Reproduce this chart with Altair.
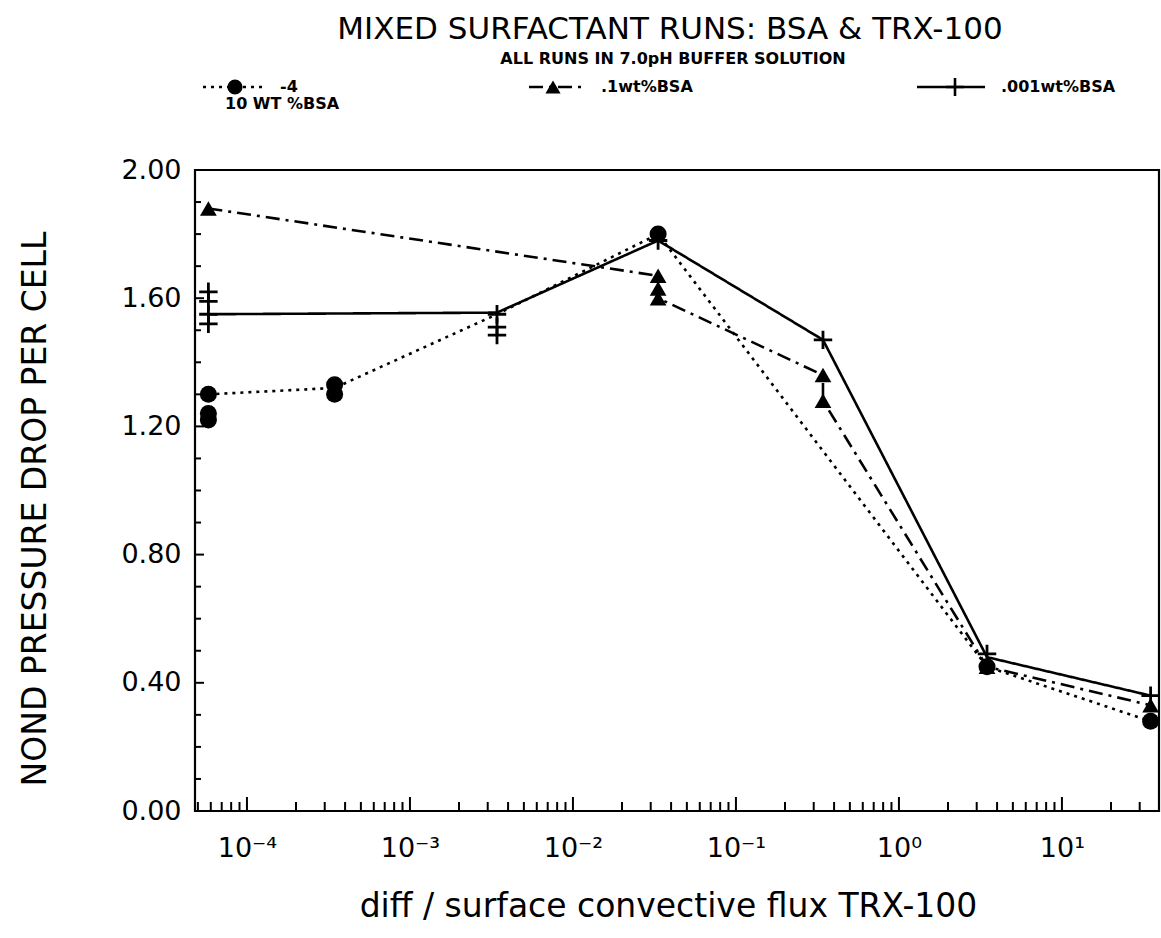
import altair as alt
import pandas as pd

# ---------------- data ----------------
# Series 1: "-4 / 10 WT %BSA"  (filled circles, dotted line)
circ_pts_x = [5.8e-5, 5.8e-5, 5.8e-5, 3.45e-4, 3.45e-4, 3.33e-2, 3.47, 35.0]
circ_pts_y = [1.22, 1.24, 1.30, 1.30, 1.33, 1.80, 0.45, 0.28]
circ_line_x = [5.8e-5, 3.45e-4, 3.42e-3, 3.33e-2, 3.47, 35.0]
circ_line_y = [1.30, 1.32, 1.55, 1.80, 0.45, 0.28]

# Series 2: ".1wt%BSA"  (filled triangles, dash-dot line)
tri_pts_x = [5.8e-5, 3.33e-2, 3.33e-2, 3.33e-2, 3.42e-1, 3.42e-1, 3.47, 35.0]
tri_pts_y = [1.88, 1.67, 1.63, 1.60, 1.36, 1.28, 0.45, 0.33]
tri_line_x = [5.8e-5, 3.33e-2, 3.33e-2, 3.42e-1, 3.42e-1, 3.47, 35.0]
tri_line_y = [1.88, 1.67, 1.60, 1.36, 1.28, 0.45, 0.33]

# Series 3: ".001wt%BSA"  (crosses, solid line)
crs_pts_x = [5.8e-5, 5.8e-5, 5.8e-5, 5.8e-5, 3.42e-3, 3.42e-3, 3.42e-3, 3.33e-2, 3.42e-1, 3.47, 35.0]
crs_pts_y = [1.62, 1.59, 1.55, 1.52, 1.55, 1.51, 1.485, 1.78, 1.47, 0.49, 0.36]
crs_line_x = [5.8e-5, 3.42e-3, 3.33e-2, 3.42e-1, 3.47, 35.0]
crs_line_y = [1.55, 1.555, 1.78, 1.47, 0.48, 0.36]

SERIES = ["circ", "tri", "crs"]
DASHES = [[3, 5], [14, 6, 3, 6], [1, 0]]

# axes
X_DOMAIN = [4.8e-5, 39.4]
Y_DOMAIN = [0.0, 2.0]
X_MAJOR = [1e-4, 1e-3, 1e-2, 1e-1, 1.0, 10.0]
X_LABELS = ["10\u207b\u2074", "10\u207b\u00b3", "10\u207b\u00b2", "10\u207b\u00b9", "10\u2070", "10\u00b9"]
X_MINOR = [m * 10.0 ** e for e in range(-5, 2) for m in range(2, 10)]
X_MINOR = [v for v in X_MINOR if X_DOMAIN[0] <= v <= X_DOMAIN[1]]
Y_MAJOR = [0.0, 0.4, 0.8, 1.2, 1.6, 2.0]
Y_MINOR = [0.1, 0.2, 0.3, 0.5, 0.6, 0.7, 0.9, 1.0, 1.1, 1.3, 1.4, 1.5, 1.7, 1.8, 1.9]

TITLE = "MIXED SURFACTANT RUNS: BSA & TRX-100"
SUBTITLE = "ALL RUNS IN 7.0pH BUFFER SOLUTION"
X_TITLE = "diff / surface convective flux TRX-100"
Y_TITLE = "NOND PRESSURE DROP PER CELL"

# ---------------- tables ----------------
lines = []
for s, xs, ys in [("circ", circ_line_x, circ_line_y), ("tri", tri_line_x, tri_line_y), ("crs", crs_line_x, crs_line_y)]:
    for i, (a, b) in enumerate(zip(xs, ys)):
        lines.append({"series": s, "i": i, "x": a, "y": b})
lines_df = pd.DataFrame(lines)

pts = []
for s, xs, ys in [("circ", circ_pts_x, circ_pts_y), ("tri", tri_pts_x, tri_pts_y), ("crs", crs_pts_x, crs_pts_y)]:
    for a, b in zip(xs, ys):
        pts.append({"series": s, "x": a, "y": b})
pts_df = pd.DataFrame(pts)

W, H = 964, 641
FONT = "DejaVu Sans"
xscale = alt.Scale(type="log", domain=X_DOMAIN, nice=False)
yscale = alt.Scale(domain=Y_DOMAIN, nice=False, zero=False)

label_expr = "[" + ",".join("'%s'" % l for l in X_LABELS) + "][round(log(datum.value)/LN10)+4]"

xaxis = alt.Axis(values=X_MAJOR, labelExpr=label_expr, ticks=False, domain=False, grid=False,
                 labelFontSize=27, labelFont=FONT, labelPadding=24, labelColor="black",
                 title=X_TITLE, titleFont=FONT, titleFontSize=33, titleFontWeight="normal",
                 titleColor="black", titleX=473, titleY=95, titleBaseline="middle", titleAlign="center")
yaxis = alt.Axis(values=Y_MAJOR, format=".2f", ticks=False, domain=False, grid=False,
                 labelFontSize=27, labelFont=FONT, labelPadding=14, labelColor="black",
                 title=Y_TITLE, titleFont=FONT, titleFontSize=33, titleFontWeight="normal",
                 titleColor="black", titleX=-160, titleY=H / 2 + 18, titleAngle=270,
                 titleBaseline="middle", titleAlign="center")

X_ENC = lambda f="x": alt.X(f + ":Q", scale=xscale, axis=xaxis)
Y_ENC = lambda f="y": alt.Y(f + ":Q", scale=yscale, axis=yaxis)

line_layer = alt.Chart(lines_df).mark_line(color="black", strokeWidth=2.6).encode(
    x=X_ENC(), y=Y_ENC(),
    detail="series:N",
    order="i:Q",
    strokeDash=alt.StrokeDash("series:N", scale=alt.Scale(domain=SERIES, range=DASHES), legend=None),
)

def pts_layer(series, **mk):
    return alt.Chart(pts_df).transform_filter(alt.datum.series == series).mark_point(**mk).encode(
        x=X_ENC(), y=Y_ENC())

CROSS = "M-1,0H1M0,-1V1"
circ_layer = pts_layer("circ", shape="circle", filled=True, color="black", size=290, opacity=1)
tri_layer = pts_layer("tri", shape="triangle-up", filled=True, color="black", size=280, opacity=1)
crs_layer = pts_layer("crs", shape=CROSS, filled=False, color="black", size=340, strokeWidth=2.8, opacity=1)

# inward ticks drawn through the scales
xt_minor = alt.Chart(pd.DataFrame({"x": X_MINOR})).mark_rule(color="black", strokeWidth=2).encode(
    x=X_ENC(), y=alt.value(H), y2=alt.value(H - 9))
xt_major = alt.Chart(pd.DataFrame({"x": X_MAJOR})).mark_rule(color="black", strokeWidth=2).encode(
    x=X_ENC(), y=alt.value(H), y2=alt.value(H - 14))
yt_minor = alt.Chart(pd.DataFrame({"y": Y_MINOR})).mark_rule(color="black", strokeWidth=2).encode(
    y=Y_ENC(), x=alt.value(0), x2=alt.value(6))
yt_major = alt.Chart(pd.DataFrame({"y": Y_MAJOR})).mark_rule(color="black", strokeWidth=2).encode(
    y=Y_ENC(), x=alt.value(0), x2=alt.value(9))

# ---------------- title + legend (decoration above the plot) ----------------
one = pd.DataFrame({"a": [0]})
LEG_Y1, LEG_Y2 = -83, -66

def leg_line(x1, x2, dash):
    return alt.Chart(one).mark_rule(color="black", strokeWidth=2.6, strokeDash=dash).encode(
        x=alt.value(x1), x2=alt.value(x2), y=alt.value(LEG_Y1))

def leg_mark(xp, **mk):
    return alt.Chart(one).mark_point(color="black", opacity=1, **mk).encode(x=alt.value(xp), y=alt.value(LEG_Y1))

def text_mark(xp, yp, txt, size=16, weight="bold", align="left", baseline="middle"):
    return alt.Chart(one).mark_text(text=txt, align=align, baseline=baseline, font=FONT,
                                    fontSize=size, fontWeight=weight, color="black").encode(
        x=alt.value(xp), y=alt.value(yp))

decor = [
    text_mark(475, -131, TITLE, size=31, weight="normal", align="center", baseline="alphabetic"),
    text_mark(478, -106, SUBTITLE, size=16, weight="bold", align="center", baseline="alphabetic"),
    leg_line(8, 72, DASHES[0]), leg_mark(40, shape="circle", filled=True, size=230), text_mark(85, LEG_Y1, "-4"),
    text_mark(30, LEG_Y2, "10 WT %BSA"),
    leg_line(334, 392, DASHES[1]), leg_mark(358, shape="triangle-up", filled=True, size=230), text_mark(406, LEG_Y1, ".1wt%BSA"),
    leg_line(722, 790, DASHES[2]), leg_mark(760, shape=CROSS, filled=False, size=320, strokeWidth=2.6), text_mark(806, LEG_Y1, ".001wt%BSA"),
]

chart = alt.layer(
    line_layer, xt_minor, xt_major, yt_minor, yt_major, circ_layer, tri_layer, crs_layer, *decor
).properties(
    width=W, height=H,
    autosize=alt.AutoSizeParams(type="none"),
    padding={"left": 195, "top": 170, "right": 2, "bottom": 127},
).configure(background="white").configure_view(stroke="black", strokeWidth=2.2)

chart.save("out.html", embed_options={"renderer": "svg", "actions": False})
